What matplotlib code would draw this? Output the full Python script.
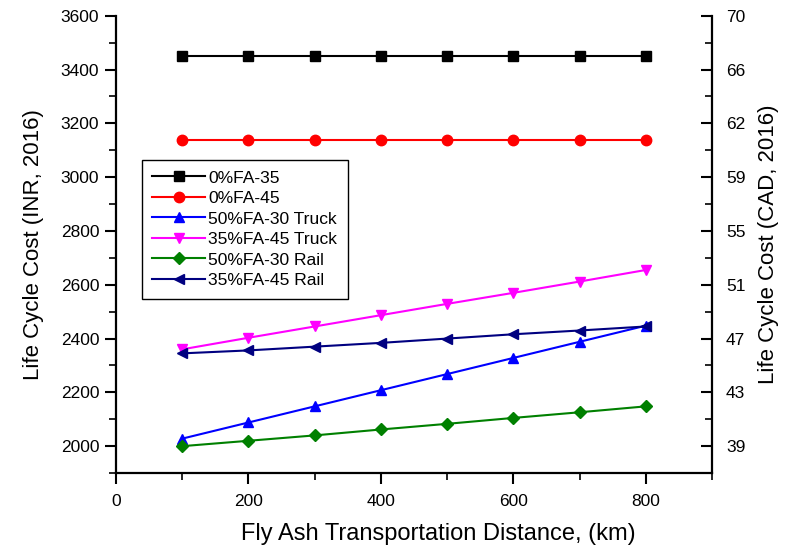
import matplotlib
matplotlib.use("Agg")
import matplotlib.pyplot as plt
from matplotlib.ticker import MultipleLocator, FixedLocator

plt.rcParams['font.family'] = ['Liberation Sans', 'DejaVu Sans']

distance = [100, 200, 300, 400, 500, 600, 700, 800]
fa0_35 = [3450, 3450, 3450, 3450, 3450, 3450, 3450, 3450]
fa0_45 = [3140, 3140, 3140, 3140, 3140, 3140, 3140, 3140]
fa50_30_truck = [2028, 2088, 2148, 2208, 2268, 2328, 2388, 2448]
fa35_45_truck = [2360, 2403, 2445, 2487, 2529, 2570, 2612, 2655]
fa50_30_rail = [2000, 2020, 2040, 2062, 2083, 2105, 2126, 2148]
fa35_45_rail = [2345, 2356, 2370, 2384, 2400, 2416, 2430, 2445]

left_ticks = [2000, 2200, 2400, 2600, 2800, 3000, 3200, 3400, 3600]
right_tick_labels = ['39', '43', '47', '51', '55', '59', '62', '66', '70']
x_ticks = [0, 200, 400, 600, 800]

fig = plt.figure(figsize=(7.9, 5.45), dpi=100)
ax = fig.add_axes([0.1468, 0.132, 0.7545, 0.839])

series = [
    (fa0_35, '0%FA-35', 'black', 's'),
    (fa0_45, '0%FA-45', 'red', 'o'),
    (fa50_30_truck, '50%FA-30 Truck', 'blue', '^'),
    (fa35_45_truck, '35%FA-45 Truck', 'magenta', 'v'),
    (fa50_30_rail, '50%FA-30 Rail', 'green', 'D'),
    (fa35_45_rail, '35%FA-45 Rail', 'navy', '<'),
]
for vals, lab, col, mk in series:
    ms = 6.5 if mk == 'D' else 7.5
    ax.plot(distance, vals, color=col, marker=mk, markersize=ms, linewidth=1.5, label=lab)

ax.set_xlim(0, 900)
ax.set_ylim(1900, 3600)
ax.set_xticks(x_ticks)
ax.xaxis.set_minor_locator(MultipleLocator(100))
ax.set_yticks(left_ticks)
ax.yaxis.set_minor_locator(MultipleLocator(100))

for s in ['left', 'bottom', 'right']:
    ax.spines[s].set_linewidth(1.6)
ax.spines['top'].set_visible(False)
ax.spines['right'].set_visible(False)

ax.tick_params(axis='y', which='major', direction='out', length=8, width=1.5, labelsize=12.5, pad=4)
ax.tick_params(axis='x', which='major', direction='out', length=8, width=1.5, labelsize=12.5, pad=7)
ax.tick_params(which='minor', direction='out', length=5, width=1.2)

ax.set_xlabel('Fly Ash Transportation Distance, (km)', fontsize=17, labelpad=10)
ax.xaxis.label.set_x(0.54)
ax.set_ylabel('Life Cycle Cost (INR, 2016)', fontsize=16, labelpad=12)

ax2 = ax.twinx()
ax2.set_ylim(ax.get_ylim())
ax2.yaxis.set_major_locator(FixedLocator(left_ticks))
ax2.set_yticklabels(right_tick_labels)
ax2.yaxis.set_minor_locator(MultipleLocator(100))
ax2.spines['top'].set_visible(False)
ax2.spines['right'].set_linewidth(1.6)
ax2.spines['left'].set_visible(False)
ax2.spines['bottom'].set_visible(False)
ax2.tick_params(which='major', direction='in', length=8, width=1.5, labelsize=12.5, pad=10)
ax2.tick_params(which='minor', direction='in', length=5, width=1.2)
ax2.set_ylabel('Life Cycle Cost (CAD, 2016)', fontsize=16, labelpad=9)

leg = ax.legend(loc='upper left', bbox_to_anchor=(0.0436, 0.685), fontsize=12.6,
                frameon=True, fancybox=False, edgecolor='black', framealpha=1,
                handlelength=3, labelspacing=0.3, borderpad=0.6, handletextpad=0.2,
                borderaxespad=0)
leg.get_frame().set_linewidth(1.0)

fig.savefig('out.png', dpi=100)
